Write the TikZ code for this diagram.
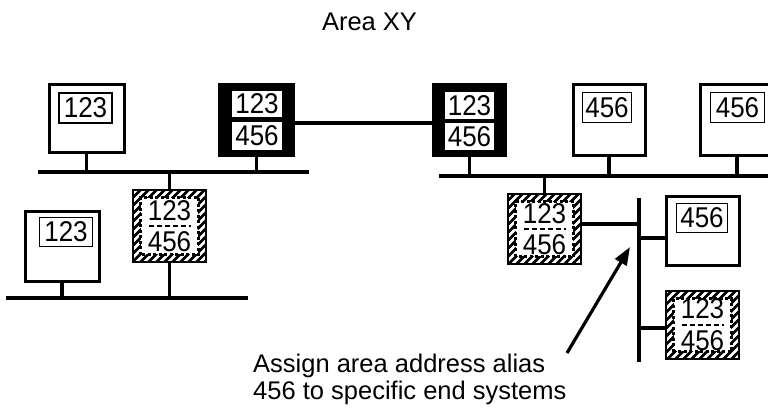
\documentclass[tikz,border=0pt]{standalone}
\usepackage{fontspec}
\setmainfont{Liberation Sans}
\usetikzlibrary{arrows.meta}
\newcommand{\dg}[1]{\scalebox{1}[1.1]{#1}}
\tikzset{
  comp/.style={draw, line width=3pt, fill=white},
  lab/.style={draw, line width=1.5pt, fill=white, font=\fontsize{26}{28}\selectfont},
  rout/.style={fill=black},
  wlab/.style={fill=white, font=\fontsize{26}{28}\selectfont},
  hnum/.style={font=\fontsize{26}{28}\selectfont},
  bus/.style={line width=3.2pt},
  wire/.style={line width=3.2pt},
  sep/.style={line width=2.4pt, dash pattern=on 5pt off 3pt}
}
\begin{document}
\begin{tikzpicture}[x=1pt,y=-1pt,
  every node/.style={font=\fontsize{25.5}{28}\selectfont, inner sep=0pt},
  hatchbox/.style={draw, line width=2.8pt, fill=black,
    path picture={
      \foreach \k in {-130,-122,...,50} {
        \draw[white, line width=2.6pt] ([shift={(\k pt,-45pt)}]path picture bounding box.center) -- ++(90pt,90pt);
      }
      \fill[white] ([shift={(8pt,8pt)}]path picture bounding box.south west) rectangle ([shift={(-8pt,-8pt)}]path picture bounding box.north east);
      \draw[black, line width=2.2pt, dash pattern=on 3pt off 2.5pt] ([shift={(7.5pt,7.5pt)}]path picture bounding box.south west) rectangle ([shift={(-7.5pt,-7.5pt)}]path picture bounding box.north east);
    }}
]
\useasboundingbox (0,0) rectangle (768,407);

% buses
\coordinate (bA1) at (38,172); \coordinate (bA2) at (309,172);
\coordinate (bB1) at (439,176); \coordinate (bB2) at (768,176);
\coordinate (bC1) at (6,298); \coordinate (bC2) at (248,298);
\coordinate (bD1) at (639,198); \coordinate (bD2) at (639,362);
\draw[bus] (bA1) -- (bA2);
\draw[bus] (bB1) -- (bB2);
\draw[bus] (bC1) -- (bC2);
\draw[bus] (bD1) -- (bD2);

% title
\node[anchor=base] (title) at (369.5,30) {Area XY};

% plain end systems
\node[comp, minimum width=75pt, minimum height=68pt] (c1) at (86.5,118) {};
\node[lab, minimum width=53pt, minimum height=30pt] (c1l) at (85.5,108) {\dg{123}};
\node[comp, minimum width=74pt, minimum height=70pt] (c2) at (62,246) {};
\node[lab, minimum width=53pt, minimum height=29pt] (c2l) at (66,232) {\dg{123}};
\node[comp, minimum width=72pt, minimum height=71pt] (c3) at (609,119.5) {};
\node[lab, minimum width=49pt, minimum height=30pt] (c3l) at (607,107.5) {\dg{456}};
\node[comp, minimum width=74pt, minimum height=71pt] (c4) at (737,119.5) {};
\node[lab, minimum width=54pt, minimum height=30pt] (c4l) at (737.5,107.5) {\dg{456}};
\node[comp, minimum width=73pt, minimum height=69pt] (c5) at (702.5,230.5) {};
\node[lab, minimum width=51pt, minimum height=29pt] (c5l) at (702,218) {\dg{456}};

% routers
\node[rout, minimum width=77pt, minimum height=74pt] (r1) at (256.5,120) {};
\node[wlab, minimum width=50pt, minimum height=26pt] (r1a) at (257,104) {\dg{123}};
\node[wlab, minimum width=50pt, minimum height=28pt] (r1b) at (257,136) {\dg{456}};
\node[rout, minimum width=75pt, minimum height=74pt] (r2) at (469.5,120) {};
\node[wlab, minimum width=49pt, minimum height=27pt] (r2a) at (469.5,105.5) {\dg{123}};
\node[wlab, minimum width=49pt, minimum height=27pt] (r2b) at (469.5,136.5) {\dg{456}};

% hatched end systems
\node[hatchbox, minimum width=73pt, minimum height=72pt] (h1) at (169.5,226) {};
\node[hnum, anchor=base] (h1a) at (169.5,220) {\dg{123}};
\node[hnum, anchor=base] (h1b) at (169.5,251) {\dg{456}};
\draw[sep] ([xshift=-21pt]h1.center) -- ([xshift=21pt]h1.center);
\node[hatchbox, minimum width=73pt, minimum height=70pt] (h2) at (544.5,229) {};
\node[hnum, anchor=base] (h2a) at (544.5,223) {\dg{123}};
\node[hnum, anchor=base] (h2b) at (544.5,254) {\dg{456}};
\draw[sep] ([xshift=-21pt]h2.center) -- ([xshift=21pt]h2.center);
\node[hatchbox, minimum width=73pt, minimum height=68pt] (h3) at (702.5,325) {};
\node[hnum, anchor=base] (h3a) at (702.5,318) {\dg{123}};
\node[hnum, anchor=base] (h3b) at (702.5,350) {\dg{456}};
\draw[sep] ([xshift=-21pt]h3.center) -- ([xshift=21pt]h3.center);

% stems and links
\draw[wire] (c1.south) -- (c1.south |- bA1);
\draw[wire] (r1.south) -- (r1.south |- bA1);
\draw[wire] (h1.north) -- (h1.north |- bA1);
\draw[wire] (h1.south) -- (h1.south |- bC1);
\draw[wire] (c2.south) -- (c2.south |- bC1);
\draw[wire] (r2.south) -- (r2.south |- bB1);
\draw[wire] (c3.south) -- (c3.south |- bB1);
\draw[wire] (c4.south) -- (c4.south |- bB1);
\draw[wire] (h2.north) -- (h2.north |- bB1);
\draw[wire] ([yshift=-3pt]r1.east) -- ([yshift=-3pt]r2.west);
\draw[wire] ([yshift=5pt]h2.east) -- ([yshift=5pt]h2.east -| bD1);
\draw[wire] ([yshift=-7.5pt]c5.west) -- ([yshift=-7.5pt]c5.west -| bD1);
\draw[wire] ([yshift=-3pt]h3.west) -- ([yshift=-3pt]h3.west -| bD1);

% annotation
\node[anchor=base west] (n1) at (253,372) {Assign area address alias};
\node[anchor=base west] (n2) at (253,399) {456 to specific end systems};
\coordinate (atail) at (567,353);
\coordinate (ahead) at (630,247);
\draw[wire, -{Triangle[length=18pt,width=13pt]}] (atail) -- (ahead);
\end{tikzpicture}
\end{document}
